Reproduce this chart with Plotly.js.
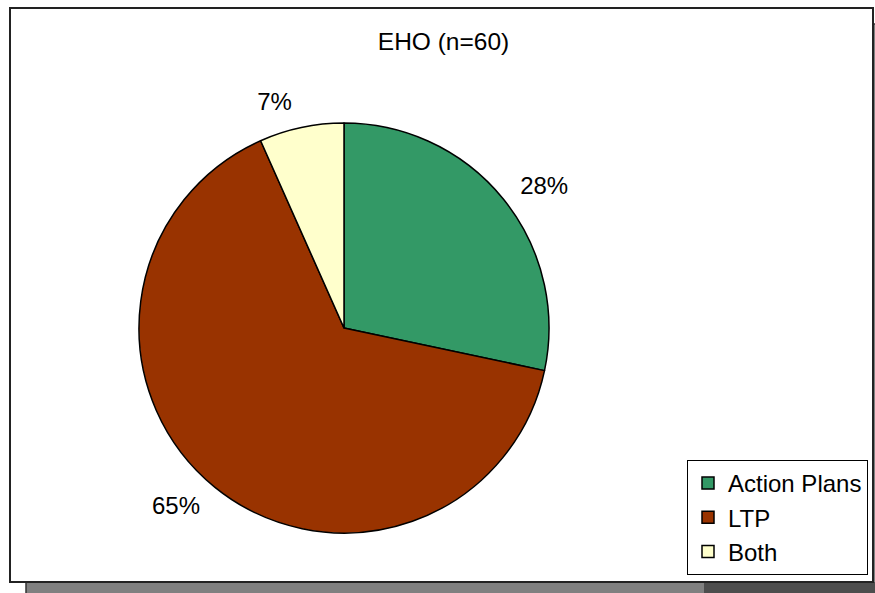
<!DOCTYPE html>
<html>
<head>
<meta charset="utf-8">
<script src="https://cdn.plot.ly/plotly-3.0.1.min.js"></script>
<style>html,body{margin:0;padding:0;background:#fff;}#chart{width:875px;height:593px;}</style>
</head>
<body>
<div id="chart"></div>
<script>
// Data (n = 60 respondents)
const categories = ["Action Plans", "LTP", "Both"];
const counts = [17, 39, 4];
const pctLabels = ["28%", "65%", "7%"];
const sliceColors = ["#339966", "#993300", "#FFFFCC"];
const chartTitle = "EHO (n=60)";

const W = 875, H = 593;
const px = v => v / W;
const py = v => 1 - v / H;
const FONT = "Liberation Sans, Arial, sans-serif";

// main pie (slices, legend)
const pieTrace = {
  type: "pie",
  labels: categories,
  values: counts,
  textinfo: "none",
  sort: false,
  direction: "clockwise",
  rotation: 0,
  marker: { colors: sliceColors, line: { color: "#000000", width: 1.5 } },
  domain: { x: [px(139), px(549)], y: [py(533), py(123)] },
  hoverinfo: "label+percent"
};

// same data, invisible slices, only used to place the outside percentage labels a bit further out
const labelTrace = {
  type: "pie",
  labels: categories,
  values: counts,
  text: pctLabels,
  textinfo: "text",
  textposition: "outside",
  sort: false,
  direction: "clockwise",
  rotation: 0,
  showlegend: false,
  marker: { colors: ["rgba(0,0,0,0)", "rgba(0,0,0,0)", "rgba(0,0,0,0)"], line: { width: 0 } },
  textfont: { family: FONT, size: 24, color: "#000000" },
  domain: { x: [px(126), px(562)], y: [py(546), py(110)] },
  hoverinfo: "skip"
};

const layout = {
  width: W, height: H,
  margin: { l: 0, r: 0, t: 0, b: 0 },
  paper_bgcolor: "#ffffff",
  font: { family: FONT, color: "#000000" },
  title: {
    text: chartTitle,
    font: { family: FONT, size: 24.5, color: "#000000" },
    x: px(443.5), xanchor: "center", xref: "container",
    y: py(41), yanchor: "middle", yref: "container"
  },
  showlegend: true,
  legend: {
    x: px(687), xanchor: "left",
    y: py(460), yanchor: "top",
    bgcolor: "#ffffff",
    bordercolor: "#000000", borderwidth: 1,
    font: { family: FONT, size: 24, color: "#000000" }
  },
  shapes: [
    { type: "rect", xref: "paper", yref: "paper", layer: "below",
      x0: px(26), x1: px(890), y0: py(600), y1: py(24),
      fillcolor: "#808080", line: { color: "#333333", width: 1.5 } },
    { type: "rect", xref: "paper", yref: "paper", layer: "below",
      x0: px(704), x1: px(890), y0: py(600), y1: py(582),
      fillcolor: "#4d4d4d", line: { width: 0 } },
    { type: "rect", xref: "paper", yref: "paper", layer: "below",
      x0: px(10), x1: px(873), y0: py(582), y1: py(8),
      fillcolor: "#ffffff", line: { color: "#222222", width: 2 } }
  ]
};

Plotly.newPlot("chart", [pieTrace, labelTrace], layout, { displayModeBar: false, staticPlot: true });
</script>
</body>
</html>
